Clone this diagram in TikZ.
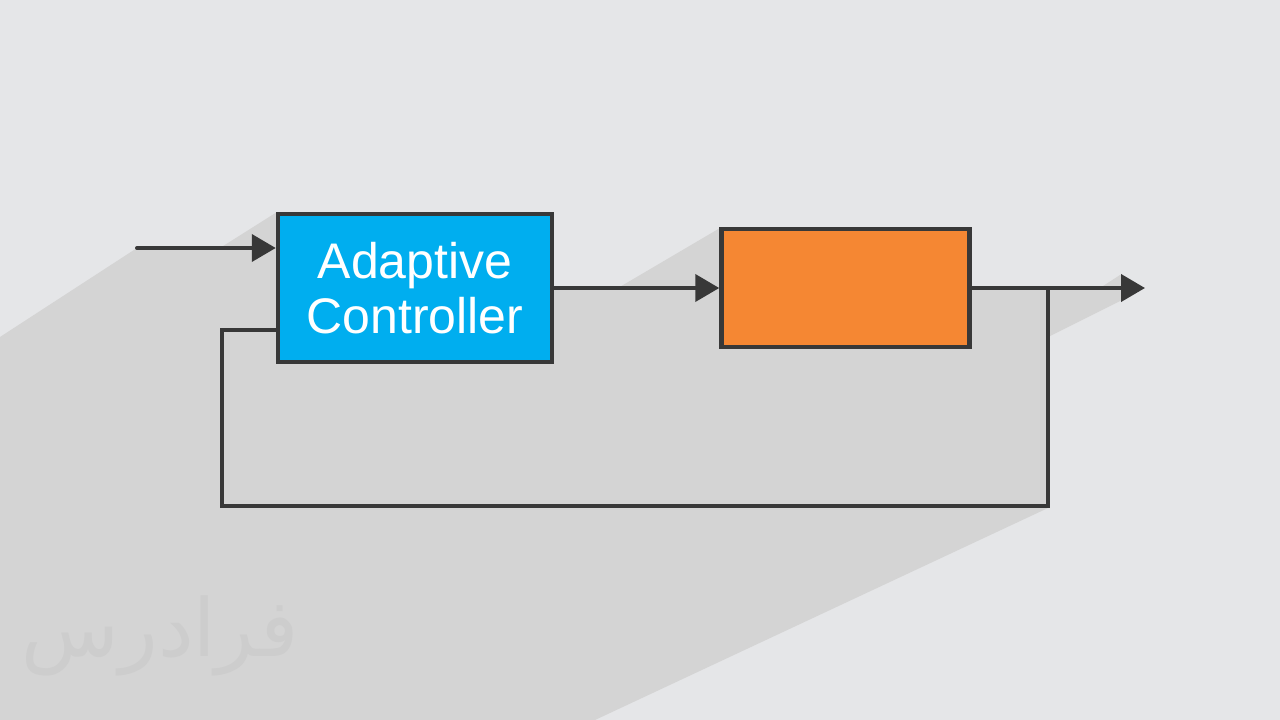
\documentclass[tikz,border=0pt]{standalone}
\usepackage{fontspec}
\setmainfont{Liberation Sans}
\newfontfamily\arabicfont[Script=Arabic]{DejaVu Sans}
\TeXXeTstate=1
\usetikzlibrary{arrows.meta}
\definecolor{bggray}{HTML}{E5E6E8}
\definecolor{shadowgray}{HTML}{D4D4D4}
\definecolor{wmgray}{HTML}{CDCDCD}
\definecolor{edgegray}{HTML}{383838}
\definecolor{ctrlblue}{HTML}{00AEEF}
\definecolor{plantorange}{HTML}{F58733}
\begin{document}
\begin{tikzpicture}[x=1pt,y=-1pt,
  blockbox/.style={draw=edgegray, line width=4.5pt, inner sep=0pt},
  wire/.style={draw=edgegray, line width=4pt},
  arrowwire/.style={wire, -{Triangle[length=24pt,width=27pt]}}]
\useasboundingbox (0,0) rectangle (1280,720);
\fill[bggray] (0,0) rectangle (1280,720);
% long shadow
\fill[shadowgray] (0,337) -- (137,248) -- (220,248) -- (277,212) -- (553,212) -- (553,288)
  -- (618,288) -- (720,228) -- (970,228) -- (970,288) -- (1100,288) -- (1120,275)
  -- (1144,288) -- (1120,301) -- (1048,337) -- (1048,508) -- (595,720) -- (0,720) -- cycle;
% watermark
\node[text=wmgray, font=\arabicfont\fontsize{80}{80}\selectfont, inner sep=0pt] (wmark) at (160,636) {\beginR فرادرس\endR};
% blocks
\node[blockbox, fill=ctrlblue, minimum width=274pt, minimum height=148pt, text=white,
  align=center, font=\fontsize{50}{55}\selectfont] (ctrl) at (415,288) {Adaptive\\Controller};
\node[blockbox, fill=plantorange, minimum width=248pt, minimum height=118pt] (plant) at (845.5,288) {};
% coordinates
\coordinate (in) at (137,248);
\coordinate (out) at (1145,288);
\coordinate (tap) at (1048,288);
\coordinate (fbL) at (222,506);
\coordinate (fbtop) at (222,330);
% connectors
\draw[arrowwire, line cap=round] (in) -- (ctrl.west |- in);
\draw[arrowwire] (ctrl.east) -- (plant.west);
\draw[arrowwire] (plant.east) -- (out);
\draw[wire] (tap) |- (fbL) |- (ctrl.west |- fbtop);
\end{tikzpicture}
\end{document}
